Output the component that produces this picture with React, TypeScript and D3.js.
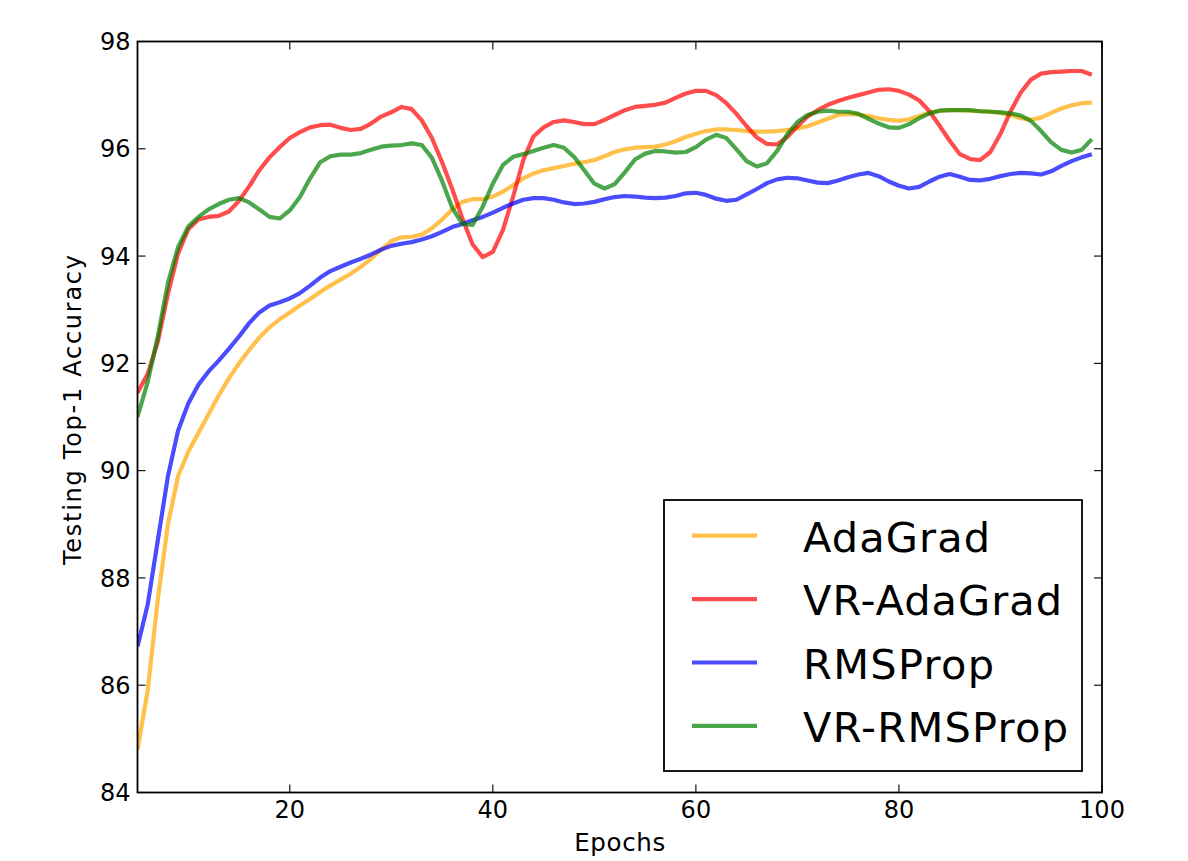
import React from "react";
import * as d3 from "d3";

const startEpoch = 5;
const seriesNames = ["AdaGrad", "VR-AdaGrad", "RMSProp", "VR-RMSProp"];
const seriesColors = ["#FFA500", "#FF0000", "#0000FF", "#008000"];

const adaGrad = [
  84.8, 85.9, 87.6, 89.0, 89.9, 90.35, 90.7, 91.05, 91.4, 91.72,
  92.0, 92.25, 92.48, 92.67, 92.82, 92.95, 93.08, 93.2, 93.33, 93.45,
  93.56, 93.67, 93.8, 93.95, 94.12, 94.28, 94.35, 94.36, 94.4, 94.52,
  94.68, 94.87, 95.01, 95.06, 95.06, 95.11, 95.2, 95.32, 95.45, 95.54,
  95.6, 95.64, 95.68, 95.72, 95.75, 95.79, 95.86, 95.94, 95.99, 96.02,
  96.03, 96.04, 96.08, 96.14, 96.22, 96.28, 96.33, 96.36, 96.36, 96.35,
  96.33, 96.32, 96.32, 96.33, 96.35, 96.38, 96.42, 96.49, 96.56, 96.63,
  96.65, 96.64, 96.61, 96.57, 96.54, 96.52, 96.55, 96.61, 96.67, 96.71,
  96.72, 96.72, 96.71, 96.7, 96.69, 96.67, 96.63, 96.57, 96.54, 96.58,
  96.67, 96.75, 96.81, 96.85, 96.86,
];

const vrAdaGrad = [
  91.45, 91.8, 92.4, 93.3, 94.05, 94.5, 94.68, 94.73, 94.75, 94.83,
  95.03, 95.3, 95.6, 95.84, 96.03, 96.2, 96.31, 96.4, 96.44, 96.45,
  96.39, 96.35, 96.37, 96.47, 96.6, 96.68, 96.78, 96.74, 96.53, 96.2,
  95.75, 95.25, 94.7, 94.22, 93.98, 94.08, 94.49, 95.11, 95.79, 96.23,
  96.4, 96.5, 96.53, 96.5, 96.46, 96.46, 96.54, 96.63, 96.72, 96.78,
  96.8, 96.82, 96.86, 96.95, 97.03, 97.08, 97.08, 97.0, 96.85, 96.65,
  96.42, 96.21, 96.09, 96.08, 96.22, 96.42, 96.6, 96.72, 96.82, 96.89,
  96.95, 97.0, 97.05, 97.1, 97.11, 97.08, 97.01, 96.9, 96.7, 96.43,
  96.15, 95.9, 95.81, 95.79, 95.94, 96.28, 96.7, 97.05, 97.29, 97.4,
  97.43, 97.44, 97.45, 97.45, 97.38,
];

const rmsProp = [
  86.72, 87.5, 88.7, 89.9, 90.75, 91.25, 91.6, 91.85, 92.05, 92.27,
  92.5, 92.75, 92.95, 93.08, 93.14, 93.21, 93.31, 93.45, 93.6, 93.72,
  93.8, 93.88, 93.95, 94.03, 94.12, 94.19, 94.23, 94.26, 94.31, 94.37,
  94.45, 94.54, 94.6, 94.67, 94.73, 94.81, 94.9, 94.98, 95.05, 95.08,
  95.08, 95.05, 95.0, 94.97, 94.98, 95.01, 95.06, 95.1, 95.12, 95.11,
  95.09, 95.08, 95.09, 95.12, 95.17, 95.18, 95.14, 95.07, 95.03, 95.05,
  95.15, 95.25, 95.36, 95.43, 95.46, 95.45, 95.41, 95.37, 95.36, 95.41,
  95.47, 95.52, 95.55, 95.49, 95.39, 95.31, 95.26, 95.29, 95.39, 95.48,
  95.53, 95.48, 95.42, 95.41, 95.44, 95.49, 95.53, 95.55, 95.54, 95.52,
  95.58, 95.68, 95.77, 95.84, 95.9,
];

const vrRmsProp = [
  91.0, 91.65, 92.5, 93.5, 94.17, 94.55, 94.73, 94.87, 94.97, 95.05,
  95.08, 95.0, 94.87, 94.73, 94.7, 94.85, 95.1, 95.45, 95.75, 95.86,
  95.89, 95.89, 95.92, 95.98, 96.04, 96.06, 96.07, 96.1, 96.07, 95.83,
  95.4, 94.9, 94.6, 94.58, 94.92, 95.35, 95.7, 95.85, 95.9, 95.96,
  96.02, 96.07, 96.02, 95.85, 95.6, 95.35, 95.26, 95.34, 95.56, 95.8,
  95.91, 95.96, 95.95, 95.93, 95.94, 96.03, 96.17, 96.26, 96.2, 95.99,
  95.77, 95.67, 95.73, 95.96, 96.27, 96.5, 96.63, 96.69, 96.71, 96.69,
  96.69, 96.65, 96.56, 96.47, 96.4, 96.39, 96.46, 96.57, 96.66, 96.71,
  96.72, 96.72, 96.72, 96.7, 96.69, 96.68, 96.66, 96.62, 96.52, 96.33,
  96.12, 95.98, 95.93, 95.98, 96.18,
];

const xTicks = [20, 40, 60, 80, 100];
const yTicks = [84, 86, 88, 90, 92, 94, 96, 98];

const W = 1188;
const H = 861;
const left = 137.5;
const right = 1102;
const top = 41.5;
const bottom = 792.5;
const FONT = "'DejaVu Sans', sans-serif";

export default function App() {
  const x = d3.scaleLinear().domain([5, 100]).range([left, right]);
  const y = d3.scaleLinear().domain([84, 98]).range([bottom, top]);
  const allSeries = [adaGrad, vrAdaGrad, rmsProp, vrRmsProp];
  const line = d3
    .line<number>()
    .x((_, i) => x(startEpoch + i))
    .y((v) => y(v));
  const tickLen = 8;

  const legX = 664;
  const legY = 500;
  const legW = 418;
  const legH = 271;
  const legRow = 63.4;
  const legTextLen = [187, 259, 191, 265];

  return (
    <div style={{ position: "absolute", left: 0, top: 0 }}>
      <svg width={W} height={H} style={{ display: "block", background: "#fff" }}>
        <defs>
          <clipPath id="clip">
            <rect x={left} y={top} width={right - left} height={bottom - top} />
          </clipPath>
        </defs>
        <rect x={0} y={0} width={W} height={H} fill="#fff" />
        <g clipPath="url(#clip)">
          {allSeries.map((s, i) => (
            <path
              key={seriesNames[i]}
              d={line(s) || ""}
              fill="none"
              stroke={seriesColors[i]}
              strokeOpacity={0.7}
              strokeWidth={4.2}
              strokeLinejoin="round"
            />
          ))}
        </g>
        {xTicks.map((t) => (
          <g key={"xt" + t}>
            <line x1={x(t)} x2={x(t)} y1={bottom} y2={bottom - tickLen} stroke="#000" strokeWidth={1.1} />
            <line x1={x(t)} x2={x(t)} y1={top} y2={top + tickLen} stroke="#000" strokeWidth={1.1} />
            <text x={x(t)} y={817.5} textAnchor="middle" fontFamily={FONT} fontSize={24} fill="#000">
              {t}
            </text>
          </g>
        ))}
        {yTicks.map((t) => (
          <g key={"yt" + t}>
            <line x1={left} x2={left + tickLen} y1={y(t)} y2={y(t)} stroke="#000" strokeWidth={1.1} />
            <line x1={right} x2={right - tickLen} y1={y(t)} y2={y(t)} stroke="#000" strokeWidth={1.1} />
            <text
              x={left - 7}
              y={y(t)}
              dy="0.36em"
              textAnchor="end"
              fontFamily={FONT}
              fontSize={24}
              fill="#000"
            >
              {t}
            </text>
          </g>
        ))}
        <rect
          x={left}
          y={top}
          width={right - left}
          height={bottom - top}
          fill="none"
          stroke="#000"
          strokeWidth={1.8}
        />
        <text
          x={(left + right) / 2}
          y={851}
          textAnchor="middle"
          fontFamily={FONT}
          fontSize={24.5}
          textLength={91}
          lengthAdjust="spacing"
          fill="#000"
        >
          Epochs
        </text>
        <text
          transform={`translate(80.5, 410) rotate(-90)`}
          textAnchor="middle"
          fontFamily={FONT}
          fontSize={24}
          textLength={310}
          lengthAdjust="spacing"
          fill="#000"
        >
          Testing Top-1 Accuracy
        </text>
        <rect x={legX} y={legY} width={legW} height={legH} fill="#fff" stroke="#000" strokeWidth={1.8} />
        {seriesNames.map((n, i) => {
          const ly = 535.7 + i * legRow;
          return (
            <g key={"leg" + n}>
              <line
                x1={692}
                x2={757}
                y1={ly}
                y2={ly}
                stroke={seriesColors[i]}
                strokeOpacity={0.7}
                strokeWidth={4.2}
              />
              <text
                x={803}
                y={ly + 16}
                fontFamily={FONT}
                fontSize={41.5}
                textLength={legTextLen[i]}
                lengthAdjust="spacing"
                fill="#000"
              >
                {n}
              </text>
            </g>
          );
        })}
      </svg>
    </div>
  );
}
